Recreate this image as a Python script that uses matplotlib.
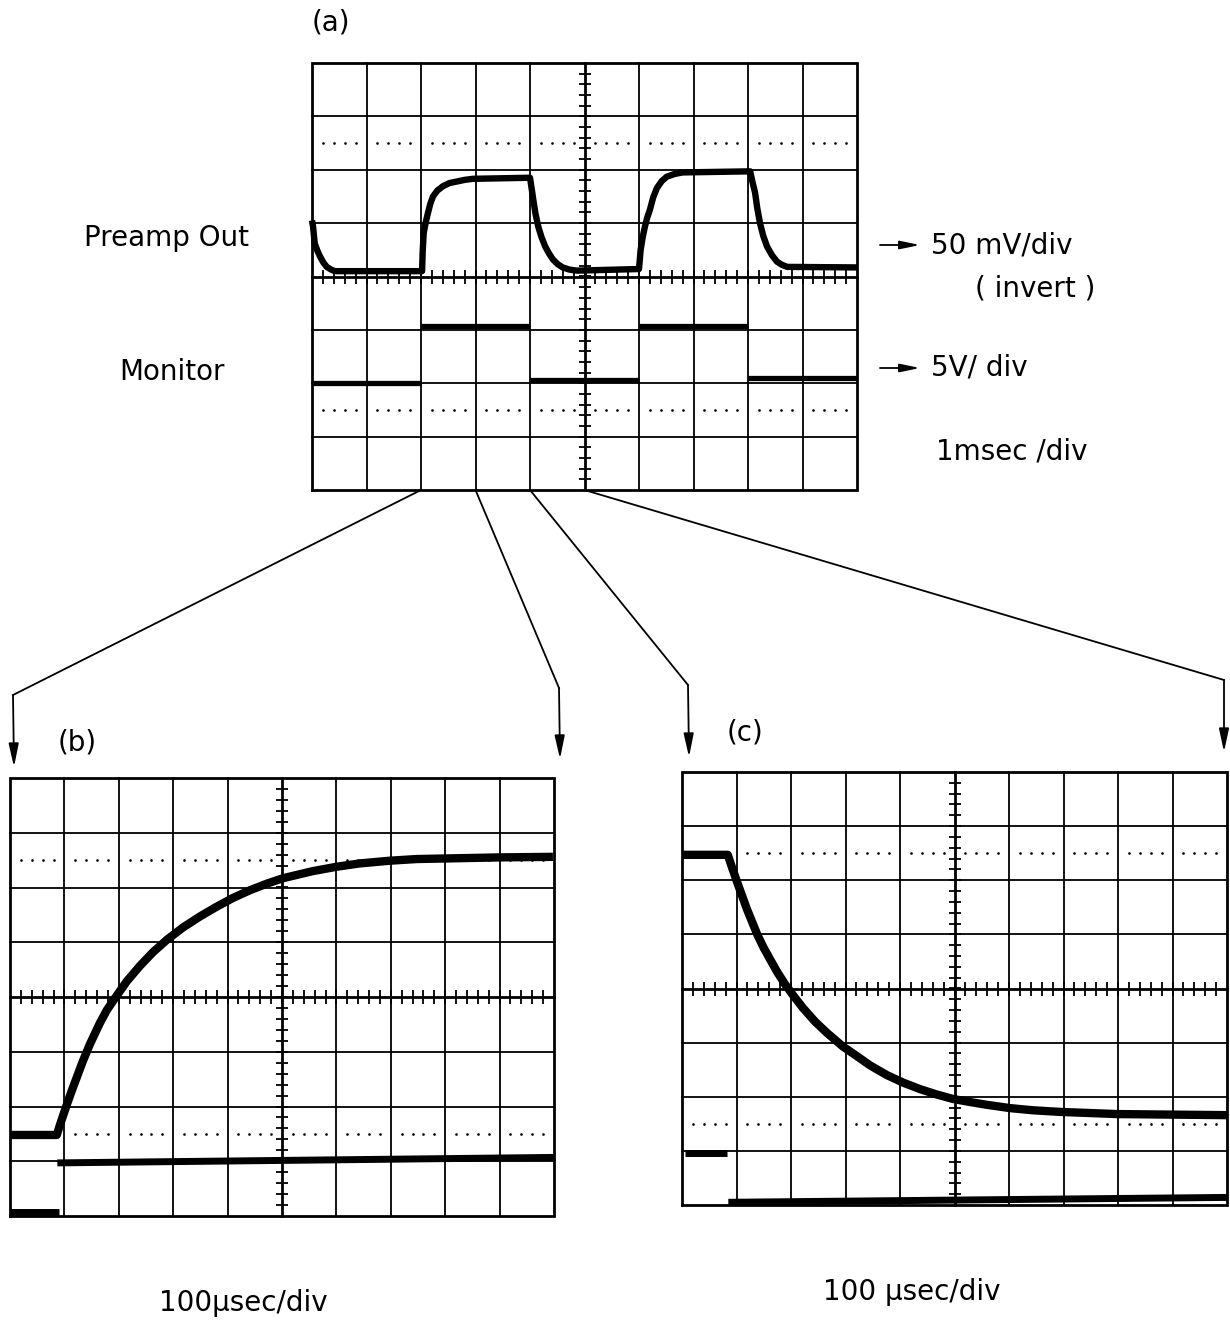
import matplotlib
matplotlib.use("Agg")
import matplotlib.pyplot as plt
import numpy as np

W, H = 1230, 1325
plt.rcParams['font.family'] = ['DejaVu Sans']

# ---------------- data (graticule divisions) ----------------
# Panel (a): 1 msec/div
a_pre_x = [0.0, 0.02, 0.035, 0.05, 0.10, 0.15, 0.21, 0.27, 0.35, 0.42,
           2.02, 2.03, 2.05, 2.09, 2.13, 2.17, 2.22, 2.30, 2.40, 2.52, 2.66, 2.80, 2.95,
           4.00, 4.03, 4.06, 4.10, 4.15, 4.21, 4.28, 4.35, 4.42, 4.51, 4.60, 4.72, 4.86,
           6.00, 6.03, 6.07, 6.11, 6.15, 6.20, 6.26, 6.33, 6.42, 6.51, 6.65, 6.80,
           8.04, 8.08, 8.13, 8.17, 8.22, 8.28, 8.35, 8.44, 8.53, 8.62, 8.72, 10.0]
a_pre_y = [1.05, 0.93, 0.77, 0.62, 0.48, 0.37, 0.26, 0.18, 0.13, 0.10,
           0.10, 0.45, 0.82, 1.03, 1.20, 1.36, 1.50, 1.61, 1.69, 1.75, 1.78, 1.81, 1.83,
           1.85, 1.65, 1.44, 1.18, 0.94, 0.74, 0.56, 0.43, 0.32, 0.23, 0.17, 0.13, 0.11,
           0.14, 0.50, 0.75, 0.94, 1.10, 1.25, 1.48, 1.66, 1.79, 1.87, 1.92, 1.95,
           1.97, 1.78, 1.57, 1.28, 1.00, 0.76, 0.56, 0.40, 0.28, 0.22, 0.18, 0.17]
a_mon_x0 = [0.0, 2.0, 4.0, 6.0, 8.0]
a_mon_x1 = [2.0, 4.0, 6.0, 8.0, 10.0]
a_mon_y = [-2.00, -0.93, -1.93, -0.92, -1.91]

# Panel (b): 100 usec/div, rising edge
b_pre_x = [0.0, 0.86, 0.92, 1.05, 1.14, 1.34, 1.47, 1.65, 1.78, 1.93, 2.15, 2.39, 2.63,
           2.89, 3.18, 3.49, 3.80, 4.10, 4.41, 4.72, 5.02, 5.57, 6.01, 6.43, 6.99, 7.48,
           8.00, 9.00, 9.98]
b_pre_y = [-2.52, -2.52, -2.33, -1.95, -1.70, -1.17, -0.86, -0.48, -0.24, -0.02, 0.29,
           0.57, 0.82, 1.05, 1.27, 1.47, 1.65, 1.81, 1.95, 2.07, 2.17, 2.30, 2.38, 2.44,
           2.49, 2.52, 2.53, 2.55, 2.56]
b_mon_low_x = [0.0, 0.90]
b_mon_low_y = [-3.93, -3.93]
b_mon_high_x = [0.87, 10.0]
b_mon_high_y = [-3.03, -2.93]

# Panel (c): 100 usec/div, falling edge
c_pre_x = [0.0, 0.84, 0.92, 1.01, 1.19, 1.38, 1.50, 1.61, 1.75, 1.89, 2.05, 2.22, 2.44,
           2.66, 2.95, 3.21, 3.45, 3.76, 4.06, 4.37, 4.68, 4.97, 5.30, 5.60, 6.02, 6.44,
           6.94, 7.98, 10.0]
c_pre_y = [2.47, 2.47, 2.23, 1.97, 1.47, 1.00, 0.75, 0.55, 0.30, 0.08, -0.14, -0.36,
           -0.61, -0.82, -1.07, -1.25, -1.42, -1.60, -1.74, -1.86, -1.96, -2.04, -2.10,
           -2.15, -2.21, -2.25, -2.28, -2.32, -2.34]
c_mon_high_x = [0.05, 0.83]
c_mon_high_y = [-3.04, -3.04]
c_mon_low_x = [0.85, 10.0]
c_mon_low_y = [-3.95, -3.86]

labels_a = ["Preamp Out", "Monitor"]
scale_a = ["50 mV/div", "( invert )", "5V/ div", "1msec /div"]
time_bc = ["100\u03bcsec/div", "100 \u03bcsec/div"]

# ---------------- figure ----------------
fig = plt.figure(figsize=(W / 100, H / 100), dpi=100)
ov = fig.add_axes([0, 0, 1, 1])
ov.set_xlim(0, W)
ov.set_ylim(H, 0)
ov.axis('off')


def px_axes(x0, y0, x1, y1):
    return fig.add_axes([x0 / W, 1 - y1 / H, (x1 - x0) / W, (y1 - y0) / H])


def graticule(ax):
    ax.set_xlim(0, 10)
    ax.set_ylim(-4, 4)
    ax.axis('off')
    for i in range(1, 10):
        lw = 2.0 if i == 5 else 1.3
        ax.plot([i, i], [-4, 4], color='k', lw=lw, clip_on=False, zorder=1)
    for j in range(-3, 4):
        lw = 2.0 if j == 0 else 1.3
        ax.plot([0, 10], [j, j], color='k', lw=lw, clip_on=False, zorder=1)
    ax.plot([0, 10, 10, 0, 0], [-4, -4, 4, 4, -4], color='k', lw=2.0,
            clip_on=False, zorder=1, solid_joinstyle='miter')
    tx = np.arange(0.2, 10.0, 0.2)
    ax.plot(tx, np.zeros_like(tx), ls='none', marker='|', ms=10, mew=1.3,
            color='k', clip_on=False, zorder=1)
    ty = np.arange(-3.8, 4.0, 0.2)
    ax.plot(np.full_like(ty, 5.0), ty, ls='none', marker='_', ms=9, mew=1.3,
            color='k', clip_on=False, zorder=1)
    dx = np.array([k + f for k in range(10) for f in (0.2, 0.4, 0.6, 0.8)])
    for yy in (2.5, -2.5):
        ax.plot(dx, np.full_like(dx, yy), ls='none', marker='o', ms=1.9, mew=0,
                color='k', clip_on=False, zorder=1)


def trace(ax, x, y, lw=5.5):
    ax.plot(x, y, color='k', lw=lw, solid_capstyle='butt',
            solid_joinstyle='round', clip_on=False, zorder=3)


ax_a = px_axes(312, 63, 857, 490)
ax_b = px_axes(10, 778, 554, 1216)
ax_c = px_axes(682, 772, 1227, 1205)
for ax in (ax_a, ax_b, ax_c):
    graticule(ax)

trace(ax_a, a_pre_x, a_pre_y, lw=4.6)
for x0, x1, yv in zip(a_mon_x0, a_mon_x1, a_mon_y):
    trace(ax_a, [x0, x1], [yv, yv], lw=3.8)

trace(ax_b, b_pre_x, b_pre_y, lw=6)
trace(ax_b, b_mon_low_x, b_mon_low_y, lw=5)
trace(ax_b, b_mon_high_x, b_mon_high_y, lw=5)

trace(ax_c, c_pre_x, c_pre_y, lw=6)
trace(ax_c, c_mon_high_x, c_mon_high_y, lw=5)
trace(ax_c, c_mon_low_x, c_mon_low_y, lw=5)

# ---------------- connectors ----------------
inv = ov.transData.inverted()
starts = [inv.transform(ax_a.transData.transform((d, -4))) for d in (2, 3, 4, 5)]
corners = [(13, 695), (559, 688), (688, 685), (1224, 680)]
tips = [(14, 767), (560, 759), (689, 757), (1224, 752)]
for s, c, t in zip(starts, corners, tips):
    ov.plot([s[0], c[0]], [s[1], c[1]], color='k', lw=1.3)
    ov.annotate('', xy=t, xytext=c,
                arrowprops=dict(arrowstyle='-|>,head_length=1.4,head_width=0.3',
                                lw=1.3, color='k', shrinkA=0, shrinkB=0))

for yy in (245, 368):
    ov.annotate('', xy=(920, yy), xytext=(880, yy),
                arrowprops=dict(arrowstyle='-|>,head_length=1.2,head_width=0.25',
                                lw=1.3, color='k', shrinkA=0, shrinkB=0))

# ---------------- text ----------------
fs = 20
ov.text(331, 22, "(a)", ha='center', va='center', fontsize=fs)
ov.text(167, 238, labels_a[0], ha='center', va='center', fontsize=fs)
ov.text(172, 372, labels_a[1], ha='center', va='center', fontsize=fs)
ov.text(931, 245, scale_a[0], ha='left', va='center', fontsize=fs)
ov.text(1035, 288, scale_a[1], ha='center', va='center', fontsize=fs)
ov.text(931, 368, scale_a[2], ha='left', va='center', fontsize=fs)
ov.text(1012, 452, scale_a[3], ha='center', va='center', fontsize=fs)
ov.text(77, 743, "(b)", ha='center', va='center', fontsize=fs)
ov.text(745, 733, "(c)", ha='center', va='center', fontsize=fs)
ov.text(243, 1303, time_bc[0], ha='center', va='center', fontsize=fs)
ov.text(912, 1292, time_bc[1], ha='center', va='center', fontsize=fs)

fig.savefig("out.png", dpi=100, facecolor='white')
